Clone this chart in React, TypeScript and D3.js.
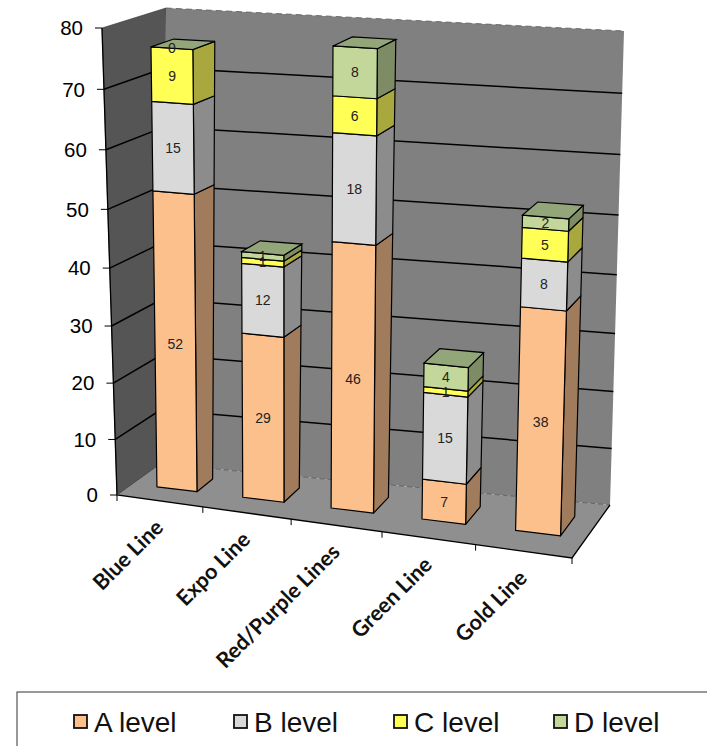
import * as d3 from 'd3';

const categories = ['Blue Line', 'Expo Line', 'Red/Purple Lines', 'Green Line', 'Gold Line'];
const seriesNames = ['A level', 'B level', 'C level', 'D level'];
const aLevel = [52, 29, 46, 7, 38];
const bLevel = [15, 12, 18, 15, 8];
const cLevel = [9, 1, 6, 1, 5];
const dLevel = [0, 1, 8, 4, 2];
const yTicks = [0, 10, 20, 30, 40, 50, 60, 70, 80];

const seriesValues = [aLevel, bLevel, cLevel, dLevel];
const frontColors = ['#fcc08c', '#d9d9d9', '#ffff55', '#c4d79b'];
const sideColors = ['#a07c5c', '#8c8c8c', '#a8a83e', '#7e8c66'];
const topColor = '#93a67a';

type Pt = [number, number];

// cube corners on screen, [x][y][z] : x 0 left 1 right, y 0 floor 1 top, z 0 front 1 back
const corners: Pt[][][] = [
  [[[117, 495], [160, 464]], [[102, 28], [166, 8]]],
  [[[572, 558], [610, 505]], [[586, 60], [624, 31]]],
];

const warp = (u: number, a: number) => (u * a) / (1 + u * (a - 1));
const lerp = (p: Pt, q: Pt, t: number): Pt => [p[0] + (q[0] - p[0]) * t, p[1] + (q[1] - p[1]) * t];

function project(x: number, y: number, z: number): Pt {
  const xx = warp(x, 0.93);
  const yy = warp(y, 0.945);
  const f = (i: number, j: number) => lerp(corners[i][j][0], corners[i][j][1], z);
  const a = lerp(f(0, 0), f(0, 1), yy);
  const b = lerp(f(1, 0), f(1, 1), yy);
  return lerp(a, b, xx);
}

const xScale = d3.scaleBand<string>().domain(categories).range([0.006, 1]).paddingInner(0.53).paddingOuter(0.26);
const yScale = d3.scaleLinear().domain([0, 80]).range([0, 1]);
const zFront = 0.36;
const zBack = 0.73;

const line = d3.line<Pt>();
const poly = (pts: Pt[]) => line(pts) + 'Z';

export default function App() {
  const bars = categories.map((c, i) => {
    const x0 = xScale(c) || 0;
    const x1 = x0 + xScale.bandwidth();
    let acc = 0;
    const segs = seriesValues.map((vals, s) => {
      const lo = acc;
      acc += vals[i];
      return { s, lo, hi: acc, v: vals[i] };
    });
    return { c, x0, x1, segs, total: acc };
  });

  return (
    <svg width={707} height={746} style={{ position: 'absolute', left: 0, top: 0 }}>
      {/* walls and floor */}
      <path d={poly([project(0, 0, 0), project(0, 1, 0), project(0, 1, 1), project(0, 0, 1)])} fill="#555555" stroke="#333" strokeWidth={0.6} />
      <path d={poly([project(0, 0, 1), project(0, 1, 1), project(1, 1, 1), project(1, 0, 1)])} fill="#808080" />
      <path d={line([project(0, 1, 1), project(1, 1, 1)]) || ''} fill="none" stroke="#555" strokeWidth={0.8} strokeDasharray="6 4" />
      <path d={poly([project(0, 0, 0), project(1, 0, 0), project(1, 0, 1), project(0, 0, 1)])} fill="#8f8f8f" />

      {/* gridlines */}
      {yTicks.slice(1, -1).map((t) => {
        const y = yScale(t);
        return (
          <path key={t} d={line([project(0, y, 0), project(0, y, 1), project(1, y, 1)]) || ''} fill="none" stroke="#000" strokeWidth={1.5} />
        );
      })}
      <path d={line([project(0, 0, 1), project(1, 0, 1)]) || ''} fill="none" stroke="#555" strokeWidth={0.8} strokeDasharray="5 3" />

      {/* axes */}
      <path d={line([project(0, 1, 0), project(0, 0, 0), project(1, 0, 0), project(1, 0, 1)]) || ''} fill="none" stroke="#000" strokeWidth={1.3} />
      <path d={line([project(0, 0, 0), project(0, 0, 1)]) || ''} fill="none" stroke="#444" strokeWidth={0.8} />
      {yTicks.map((t) => {
        const p = project(0, yScale(t), 0);
        return (
          <g key={t}>
            <line x1={p[0] - 7} x2={p[0]} y1={p[1]} y2={p[1]} stroke="#000" strokeWidth={1} />
            <text x={p[0] - 19} y={p[1]} dy="0.35em" textAnchor="end" fontFamily="Liberation Sans" fontSize={20.5}>{t}</text>
          </g>
        );
      })}
      {categories.map((c, i) => {
        const pts = [project(i / 5, 0, 0), project((i + 1) / 5, 0, 0)];
        const mid = project((i + 0.5) / 5, 0, 0);
        return (
          <g key={c}>
            {i === 0 && <line x1={pts[0][0]} x2={pts[0][0]} y1={pts[0][1]} y2={pts[0][1] + 6} stroke="#000" />}
            <line x1={pts[1][0]} x2={pts[1][0]} y1={pts[1][1]} y2={pts[1][1] + 6} stroke="#000" />
            <text
              transform={`translate(${mid[0] + 5},${mid[1] + 28}) rotate(-45)`}
              textAnchor="end"
              fontFamily="Lato"
              fontWeight={700}
              fontSize={21.5}
              fill="#111"
            >
              {c}
            </text>
          </g>
        );
      })}

      {/* bars */}
      {bars.map((b) => (
        <g key={b.c}>
          {b.segs.map((g) => {
            const lo = yScale(g.lo);
            const hi = yScale(g.hi);
            if (g.v === 0) return null;
            return (
              <g key={g.s} stroke="#000" strokeWidth={1.2} strokeLinejoin="round">
                <path d={poly([project(b.x1, lo, zFront), project(b.x1, hi, zFront), project(b.x1, hi, zBack), project(b.x1, lo, zBack)])} fill={sideColors[g.s]} />
                <path d={poly([project(b.x0, lo, zFront), project(b.x0, hi, zFront), project(b.x1, hi, zFront), project(b.x1, lo, zFront)])} fill={frontColors[g.s]} />
              </g>
            );
          })}
          <path
            d={poly([project(b.x0, yScale(b.total), zFront), project(b.x1, yScale(b.total), zFront), project(b.x1, yScale(b.total), zBack), project(b.x0, yScale(b.total), zBack)])}
            fill={topColor}
            stroke="#000"
            strokeWidth={1.2}
          />
          {b.segs.map((g) => {
            const p = project((b.x0 + b.x1) / 2, yScale((g.lo + g.hi) / 2), zFront);
            return (
              <text key={g.s} x={p[0]} y={p[1]} dy="0.35em" textAnchor="middle" fontFamily="Liberation Sans" fontSize={14} fill="#222">
                {g.v}
              </text>
            );
          })}
        </g>
      ))}

      {/* legend */}
      <rect x={17} y={692} width={700} height={60} fill="#fff" stroke="#333" strokeWidth={1} />
      {seriesNames.map((n, i) => {
        const x = 74 + i * 160;
        return (
          <g key={n}>
            <rect x={x} y={715} width={13} height={13} fill={frontColors[i]} stroke="#111" strokeWidth={1.8} />
            <text x={x + 20} y={732} fontFamily="Liberation Sans" fontSize={28} fill="#111">{n}</text>
          </g>
        );
      })}
    </svg>
  );
}
